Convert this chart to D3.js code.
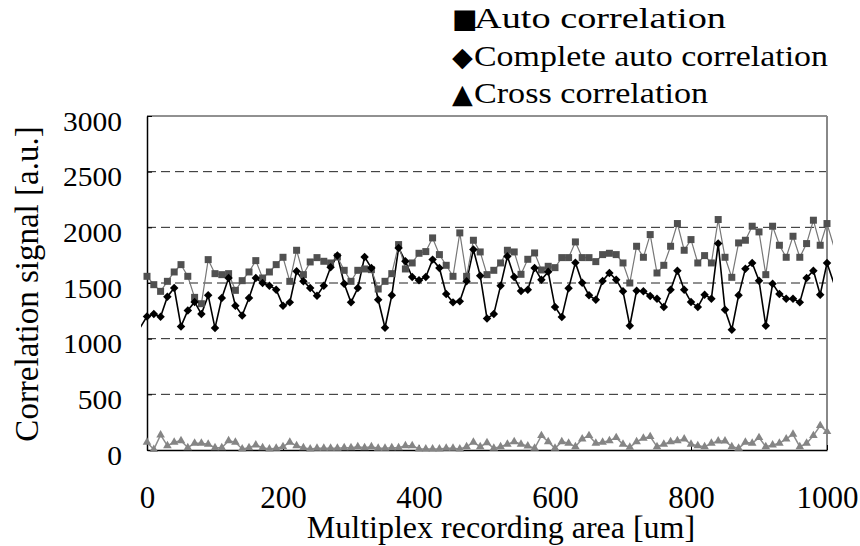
<!DOCTYPE html>
<html><head><meta charset="utf-8">
<script src="https://cdn.jsdelivr.net/npm/d3@7"></script>
<style>body{margin:0;background:#fff} svg{display:block}</style>
</head><body>
<svg id="c" width="860" height="546"></svg>
<script>
// Multiplex recording area positions [um] (the first and last lie just outside the axis range)
const positions = [-10,0,10,20,30,40,50,60,70,80,90,100,110,120,130,140,150,160,170,180,190,200,
  210,220,230,240,250,260,270,280,290,300,310,320,330,340,350,360,370,380,390,400,
  410,420,430,440,450,460,470,480,490,500,510,520,530,540,550,560,570,580,590,600,
  610,620,630,640,650,660,670,680,690,700,710,720,730,740,750,760,770,780,790,800,
  810,820,830,840,850,860,870,880,890,900,910,920,930,940,950,960,970,980,990,1000,1010];

const autoCorr = [null,1560,1485,1425,1515,1599,1665,1560,1371,1314,1710,1584,1575,1584,1434,1521,1599,1701,1545,1599,1665,
  1731,1515,1794,1575,1689,1728,1695,1680,1734,1614,1515,1614,1626,1620,1446,1515,1584,1845,1626,1680,
  1767,1782,1905,1755,1659,1560,1950,1560,1884,1779,1575,1614,1680,1794,1779,1578,1713,1770,1617,1650,
  1638,1728,1728,1869,1728,1728,1692,1755,1767,1755,1680,1500,1830,1731,1935,1590,1659,1830,2034,1794,
  1890,1680,1746,1680,2070,1731,1551,1860,1884,2010,1959,1575,2010,1839,1731,1920,1731,1854,2064,1839,2034,1830];

const completeAuto = [1100,1200,1221,1197,1377,1455,1110,1254,1330,1221,1389,1095,1365,1545,1296,1209,1365,1545,1500,1476,1440,
  1296,1326,1605,1515,1455,1386,1476,1641,1746,1494,1326,1455,1734,1635,1350,1098,1389,1815,1695,1554,
  1524,1554,1710,1635,1401,1326,1335,1515,1800,1566,1182,1221,1476,1740,1554,1428,1440,1635,1530,1600,
  1284,1194,1452,1683,1503,1389,1350,1518,1590,1530,1425,1116,1431,1425,1383,1359,1284,1440,1611,1440,
  1329,1284,1395,1359,1854,1260,1080,1389,1629,1680,1521,1116,1494,1401,1359,1359,1326,1545,1611,1395,1680,1500];

const crossCorr = [null,69,5,135,39,69,84,21,60,60,51,21,21,84,69,9,21,45,21,9,15,
  30,69,39,21,9,15,15,15,15,21,21,30,21,30,15,15,21,21,39,39,
  9,9,9,9,15,15,9,30,69,30,65,15,30,51,75,51,36,15,129,75,
  15,75,60,30,99,129,60,69,84,111,51,24,75,105,120,30,51,75,84,99,
  51,39,30,60,81,81,30,15,69,60,111,30,45,60,99,141,30,60,129,219,165,null];

const xTicks = [0,200,400,600,800,1000];
const yTicks = [0,500,1000,1500,2000,2500,3000];
const legendSymbols = ["\u25A0","\u25C6","\u25B2"];
const legendLabels = ["Auto correlation","Complete auto correlation","Cross correlation"];

const SERIF = '"Liberation Serif"';
const svg = d3.select("#c");
const x = d3.scaleLinear().domain([0,1000]).range([147,827]);
const y = d3.scaleLinear().domain([0,3000]).range([450,116]);
const fmt = d3.format("d");

// gridlines
svg.append("g").selectAll("line").data(yTicks.filter(v => v > 0 && v < 3000)).join("line")
  .attr("x1", x(0)).attr("x2", x(1000)).attr("y1", d => y(d)).attr("y2", d => y(d))
  .attr("stroke", "#222").attr("stroke-width", 1).attr("stroke-dasharray", "9,5");

// frame top and right
svg.append("line").attr("x1", x(0)).attr("x2", x(1000)).attr("y1", y(3000)).attr("y2", y(3000))
  .attr("stroke", "#222").attr("stroke-width", 1);
svg.append("line").attr("x1", x(1000)).attr("x2", x(1000)).attr("y1", y(3000)).attr("y2", y(0))
  .attr("stroke", "#888").attr("stroke-width", 2);

// axes
const yAxis = svg.append("g").attr("transform", `translate(${x(0)},0)`)
  .call(d3.axisLeft(y).tickValues(yTicks).tickFormat(fmt).tickSize(-5).tickSizeOuter(0).tickPadding(25));
yAxis.select(".domain").attr("stroke", "#000").attr("stroke-width", 1.5);
yAxis.selectAll(".tick line").attr("stroke", "#000");
yAxis.selectAll("text").style("font-family", SERIF).style("font-size", "27px").attr("fill", "#000")
  .attr("dy", 14).attr("textLength", d => fmt(d).length * 14.75).attr("lengthAdjust", "spacingAndGlyphs");

const xAxis = svg.append("g").attr("transform", `translate(0,${y(0)})`)
  .call(d3.axisBottom(x).tickValues(xTicks).tickFormat(fmt).tickSize(-5).tickSizeOuter(0).tickPadding(0));
xAxis.select(".domain").attr("stroke", "#000").attr("stroke-width", 1.5);
xAxis.selectAll(".tick line").attr("stroke", "#000");
xAxis.selectAll("text").style("font-family", SERIF).style("font-size", "31px").attr("fill", "#000")
  .attr("y", 58).attr("dy", 0);

// axis titles
svg.append("text").attr("x", (x(0) + x(1000)) / 2 + 14).attr("y", 538)
  .attr("text-anchor", "middle").style("font-family", SERIF).style("font-size", "32px")
  .text("Multiplex recording area [um]");
svg.append("text").attr("transform", `translate(38,${(y(0) + y(3000)) / 2 + 1}) rotate(-90)`)
  .attr("text-anchor", "middle").style("font-family", SERIF).style("font-size", "33px")
  .text("Correlation signal [a.u.]");

// series
const rows = positions.map((p, i) => ({p, a: autoCorr[i], c: completeAuto[i], x: crossCorr[i]}));
svg.append("defs").append("clipPath").attr("id", "clip").append("rect")
  .attr("x", x(0) - 6).attr("y", 0).attr("width", x(1000) - x(0) + 12).attr("height", 546);
const plot = svg.append("g").attr("clip-path", "url(#clip)");
const mk = key => d3.line().defined(d => d[key] != null).x(d => x(d.p)).y(d => y(d[key]));

plot.append("path").datum(rows).attr("d", mk("x")).attr("fill", "none").attr("stroke", "#8c8c8c").attr("stroke-width", 1.5);
plot.append("path").datum(rows).attr("d", mk("c")).attr("fill", "none").attr("stroke", "#000").attr("stroke-width", 1.6);
plot.append("path").datum(rows).attr("d", mk("a")).attr("fill", "none").attr("stroke", "#777").attr("stroke-width", 1.2);

const inRange = rows.filter(d => d.p >= 0 && d.p <= 1000);
svg.append("g").selectAll("path").data(inRange.filter(d => d.a != null)).join("path")
  .attr("d", d3.symbol(d3.symbolSquare, 49)())
  .attr("transform", d => `translate(${x(d.p)},${y(d.a)})`).attr("fill", "#505050");
svg.append("g").selectAll("path").data(inRange.filter(d => d.c != null)).join("path")
  .attr("d", d3.symbol(d3.symbolSquare, 36)())
  .attr("transform", d => `translate(${x(d.p)},${y(d.c)}) rotate(45)`).attr("fill", "#000");
svg.append("g").selectAll("path").data(inRange.filter(d => d.x != null)).join("path")
  .attr("d", d3.symbol(d3.symbolTriangle, 32)())
  .attr("transform", d => `translate(${x(d.p)},${y(d.x)})`).attr("fill", "#858585");

// legend
const leg = svg.append("g");
const legendWidths = [252, 354, 234];
legendLabels.forEach((lab, i) => {
  const by = 28 + i * 37.5;
  leg.append("text").attr("x", 452).attr("y", by)
    .style("font-family", '"DejaVu Sans"').style("font-size", "27px").text(legendSymbols[i]);
  leg.append("text").attr("x", 474).attr("y", by).style("font-family", SERIF).style("font-size", "29px")
    .attr("textLength", legendWidths[i]).attr("lengthAdjust", "spacingAndGlyphs").text(lab);
});
</script>
</body></html>
